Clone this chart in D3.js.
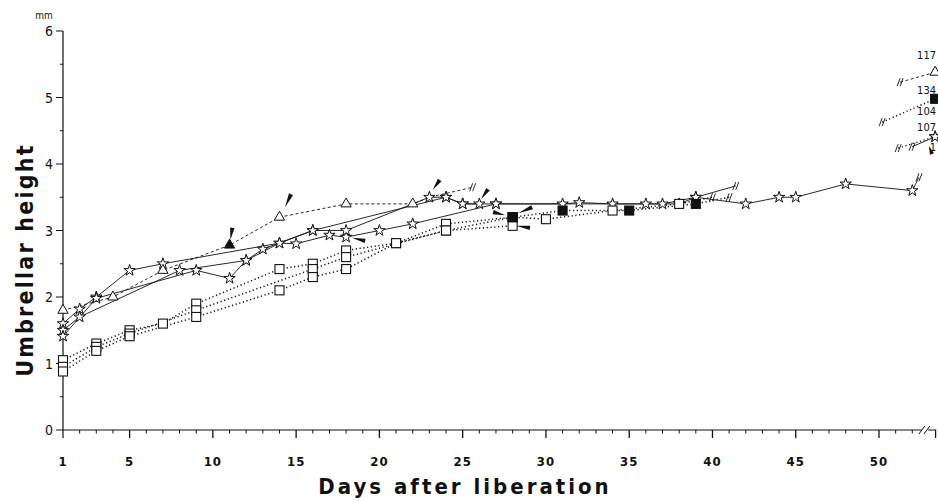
<!DOCTYPE html>
<html>
<head>
<meta charset="utf-8">
<script src="https://cdn.jsdelivr.net/npm/d3@7"></script>
<style>
  html, body { margin: 0; padding: 0; background: #fff; }
  svg { display: block; }
  text { font-family: "Liberation Sans Narrow", "DejaVu Sans Condensed", "Arial Narrow", sans-serif; font-stretch: condensed; fill: #111; }
</style>
</head>
<body>
<div id="root"></div>
<script>
// --- data (day after liberation, umbrellar height in mm) ---
const xTicks = [1, 5, 10, 15, 20, 25, 30, 35, 40, 45, 50];
const yTicks = [0, 1, 2, 3, 4, 5, 6];

// a third value of 0 means the line passes through without a marker
const starA = [[1, 1.6], [2, 1.82], [3, 2.0], [5, 2.4], [7, 2.5], [14, 2.81], [15, 2.8], [17, 2.93],
  [18, 2.9], [20, 3.0], [22, 3.1], [27, 3.4], [31, 3.4], [32, 3.42], [34, 3.4], [36, 3.4], [38, 3.4],
  [39, 3.5], [42, 3.4], [44, 3.5], [45, 3.5], [48, 3.7], [52, 3.6], [52.4, 3.8, 0]];
const starB = [[1, 1.5], [2, 1.7], [8, 2.4], [12, 2.55], [13, 2.72], [16, 3.0], [18, 3.0], [23, 3.5],
  [24, 3.5], [25, 3.4], [26, 3.4]];
const starC = [[1, 1.41], [3, 1.98], [9, 2.4], [11, 2.28], [12, 2.55], [14, 2.81], [16, 3.0],
  [24, 3.5], [25, 3.4], [27, 3.4], [37, 3.4], [39, 3.5], [41.4, 3.67, 0]];
const triA = [[1, 1.8], [4, 2.0], [7, 2.4], [11, 2.78], [14, 3.2], [18, 3.4], [22, 3.4], [23, 3.5, 0],
  [25.6, 3.65, 0]];
const sqA = [[1, 1.05], [3, 1.3], [5, 1.5], [7, 1.6], [9, 1.9], [14, 2.42], [16, 2.5], [18, 2.7],
  [21, 2.81], [24, 3.1], [28, 3.2], [30, 3.17], [34, 3.3], [38, 3.4], [40, 3.5, 0]];
const sqB = [[1, 0.95], [3, 1.25], [5, 1.45], [9, 1.8], [16, 2.42], [18, 2.6], [24, 3.0], [28, 3.07]];
const sqC = [[1, 0.88], [3, 1.19], [5, 1.41], [9, 1.7], [14, 2.1], [16, 2.3], [18, 2.42], [21, 2.81],
  [24, 3.0], [28, 3.2]];
const sqFilled = [[28, 3.2], [31, 3.3], [35, 3.3], [39, 3.4], [41, 3.5, 0]];

// segments drawn after the axis break on the right
const endTri = [[51.27, 5.23, 0], [53.37, 5.38]];
const endFilled = [[50.19, 4.63, 0], [53.37, 4.98]];
const end104 = [[51.15, 4.24, 0], [53.37, 4.41]];
const end107 = [[51.99, 4.26, 0], [53.37, 4.41]];
const endLabels = [["117", 5.58], ["134", 5.05], ["104", 4.73], ["107", 4.5], ["1", 4.2]];

// filled markers and pointer arrows: [day, mm, dx, dy of the tail in px]
const filledTri = [[11, 2.78]];
const arrows = [[11.05, 2.86, 2, -12], [14.33, 3.35, 6, -13], [23.2, 3.61, 7, -10], [26.1, 3.47, 7, -10],
  [18.36, 2.89, 13, 3], [27.55, 3.23, -12, -3], [28.33, 3.26, 14, -6], [28.2, 3.07, 14, 2],
  [53.0, 4.27, 3, 8]];
// small "//" marks where a series' line is interrupted
const breaks = [[25.6, 3.65], [41.4, 3.67], [40.0, 3.5], [41.0, 3.5], [52.4, 3.8], [51.27, 5.23],
  [50.19, 4.63], [51.15, 4.24], [51.99, 4.26]];

const series = [
  { pts: starA, shape: "star", dash: null, w: 0.9 },
  { pts: starB, shape: "star", dash: null, w: 0.9 },
  { pts: starC, shape: "star", dash: null, w: 0.9 },
  { pts: triA, shape: "tri", dash: "3,2.5", w: 0.9 },
  { pts: sqA, shape: "sq", dash: "1.2,2.6", w: 1.5 },
  { pts: sqB, shape: "sq", dash: "1.2,2.6", w: 1.5 },
  { pts: sqC, shape: "sq", dash: "1.2,2.6", w: 1.5 },
  { pts: sqFilled, shape: "sqf", dash: "1.2,2.6", w: 1.5 },
  { pts: endTri, shape: "tri", dash: "3,2.5", w: 0.9 },
  { pts: endFilled, shape: "sqf", dash: "1.2,2.6", w: 1.5 },
  { pts: end104, shape: "star", dash: "1.2,2.6", w: 1.3 },
  { pts: end107, shape: "star", dash: null, w: 0.9 },
];

const width = 938;
const height = 501;

const x = d3.scaleLinear().domain([1, 50]).range([63, 879]);
const y = d3.scaleLinear().domain([0, 6]).range([430, 31]);

const svg = d3.select("#root").append("svg")
  .attr("width", width)
  .attr("height", height);

// axes
const axisEnd = x(53.4);
const xAxis = svg.append("g").attr("stroke", "#111").attr("fill", "none");
xAxis.append("path").attr("d", `M${x(1)},${y(0)}H${x(52.55)}M${x(52.95)},${y(0)}H${axisEnd}V${y(0) + 8}`)
  .attr("stroke-width", 1.2);
xAxis.append("path")
  .attr("d", `M${x(52.4)},${y(0) + 4}L${x(52.75)},${y(0) - 4}M${x(52.7)},${y(0) + 4}L${x(53.05)},${y(0) - 4}`)
  .attr("stroke-width", 1);
xAxis.selectAll("line.minor")
  .data(d3.range(2, 53))
  .join("line")
  .attr("x1", d => x(d)).attr("x2", d => x(d))
  .attr("y1", y(0)).attr("y2", d => y(0) + (xTicks.includes(d) ? 8 : 3.5))
  .attr("stroke-width", d => xTicks.includes(d) ? 1.3 : 1);

svg.append("g").selectAll("text")
  .data(xTicks)
  .join("text")
  .attr("x", d => x(d))
  .attr("y", y(0) + 36)
  .attr("text-anchor", "middle")
  .attr("font-size", 13)
  .attr("font-weight", 600)
  .attr("letter-spacing", 1)
  .text(d => d);

const yAxis = svg.append("g").attr("stroke", "#111").attr("fill", "none");
yAxis.append("path").attr("d", `M${x(1)},${y(6)}V${y(0) + 8}`).attr("stroke-width", 1.2);
yAxis.selectAll("line")
  .data(d3.range(0, 6.01, 0.5))
  .join("line")
  .attr("x1", d => x(1) - (Number.isInteger(d) ? 7 : 3)).attr("x2", x(1))
  .attr("y1", d => y(d)).attr("y2", d => y(d))
  .attr("stroke-width", 1);

svg.append("g").selectAll("text")
  .data(yTicks)
  .join("text")
  .attr("x", x(1) - 10)
  .attr("y", d => y(d) + 5)
  .attr("text-anchor", "end")
  .attr("font-size", 14)
  .text(d => d);

svg.append("text").attr("x", 44).attr("y", 19).attr("text-anchor", "middle")
  .attr("font-size", 10).text("mm");

svg.append("text")
  .attr("transform", `translate(33, 260) rotate(-90)`)
  .attr("text-anchor", "middle")
  .attr("font-size", 23)
  .attr("font-weight", "bold")
  .attr("letter-spacing", 2.2)
  .text("Umbrellar height");

svg.append("text")
  .attr("x", 465).attr("y", 494)
  .attr("text-anchor", "middle")
  .attr("font-size", 22)
  .attr("font-weight", "bold")
  .attr("letter-spacing", 3)
  .text("Days after liberation");

// lines
const line = d3.line().x(d => x(d[0])).y(d => y(d[1]));
const plot = svg.append("g");
plot.selectAll("path.series")
  .data(series)
  .join("path")
  .attr("fill", "none")
  .attr("stroke", "#111")
  .attr("stroke-width", d => d.w)
  .attr("stroke-dasharray", d => d.dash)
  .attr("d", d => line(d.pts));

// break marks
plot.selectAll("path.brk")
  .data(breaks)
  .join("path")
  .attr("fill", "none")
  .attr("stroke", "#111")
  .attr("stroke-width", 0.9)
  .attr("d", d => {
    const cx = x(d[0]), cy = y(d[1]);
    return `M${cx - 3},${cy + 4}L${cx},${cy - 4}M${cx},${cy + 4}L${cx + 3},${cy - 4}`;
  });

// markers
const star = d3.symbol().type(d3.symbolStar).size(40);
const tri = d3.symbol().type(d3.symbolTriangle).size(46);
const markers = series.flatMap(s => s.pts.filter(p => p[2] !== 0).map(p => ({ p, shape: s.shape })));
plot.selectAll("path.mk")
  .data(markers.filter(m => m.shape === "star" || m.shape === "tri"))
  .join("path")
  .attr("transform", d => `translate(${x(d.p[0])},${y(d.p[1])})`)
  .attr("d", d => d.shape === "star" ? star() : tri())
  .attr("fill", "#fff")
  .attr("stroke", "#111")
  .attr("stroke-width", 1);

plot.selectAll("rect.mk")
  .data(markers.filter(m => m.shape === "sq" || m.shape === "sqf"))
  .join("rect")
  .attr("x", d => x(d.p[0]) - 4.5)
  .attr("y", d => y(d.p[1]) - 4.5)
  .attr("width", 9)
  .attr("height", 9)
  .attr("fill", d => d.shape === "sqf" ? "#111" : "#fff")
  .attr("stroke", "#111")
  .attr("stroke-width", 1.1);

plot.selectAll("path.ftri")
  .data(filledTri)
  .join("path")
  .attr("transform", d => `translate(${x(d[0])},${y(d[1])})`)
  .attr("d", tri())
  .attr("fill", "#111");

// pointer arrows (thin filled wedges)
plot.selectAll("path.arrow")
  .data(arrows)
  .join("path")
  .attr("fill", "#111")
  .attr("d", d => {
    const tx = x(d[0]), ty = y(d[1]);
    const ex = tx + d[2], ey = ty + d[3];
    const len = Math.hypot(d[2], d[3]);
    const nx = -d[3] / len * 2.2, ny = d[2] / len * 2.2;
    return `M${tx},${ty}L${ex + nx},${ey + ny}L${ex - nx},${ey - ny}Z`;
  });

// labels of the animals followed past the break
svg.append("g").selectAll("text")
  .data(endLabels)
  .join("text")
  .attr("x", 936)
  .attr("y", d => y(d[1]))
  .attr("text-anchor", "end")
  .attr("font-size", 11)
  .text(d => d[0]);
</script>
</body>
</html>
